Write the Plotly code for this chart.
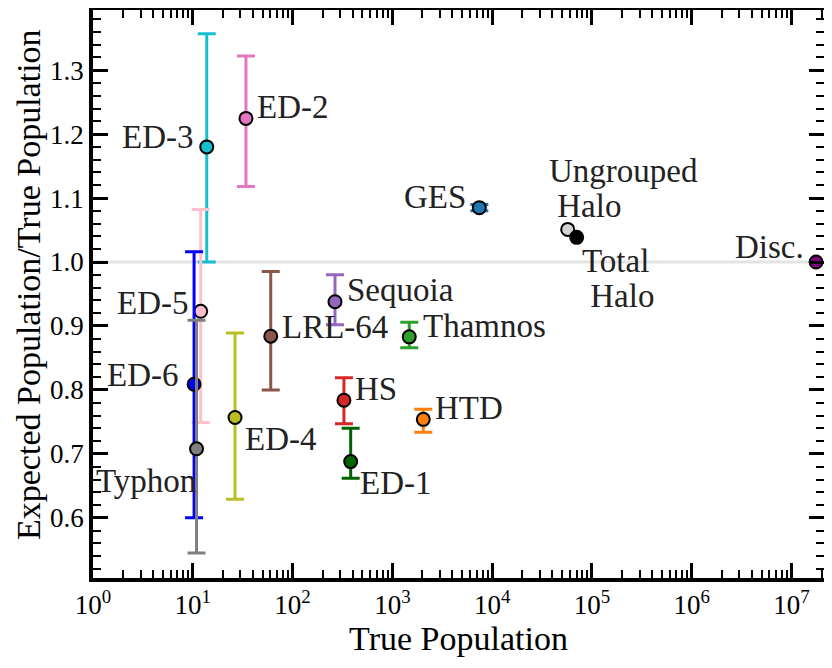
import numpy as np
import plotly.graph_objects as go

# ---------------- data ----------------
names = ["GES", "HTD", "Thamnos", "HS", "Sequoia", "LRL-64", "ED-1", "ED-2",
         "ED-3", "ED-4", "ED-5", "ED-6", "Typhon", "Ungrouped Halo", "Total Halo", "Disc"]
true_pop = [7430, 2040, 1476, 327, 266, 60.4, 382, 34.1,
            13.8, 26.5, 12.0, 10.3, 10.9, 57100, 70300, 1.76e7]
ratio = [1.085, 0.754, 0.883, 0.784, 0.938, 0.884, 0.688, 1.2245,
         1.180, 0.757, 0.923, 0.809, 0.708, 1.051, 1.0386, 1.000]
ratio_upper = [1.090, 0.770, 0.906, 0.819, 0.980, 0.985, 0.740, 1.322,
               1.357, 0.889, 1.082, 1.016, 0.909, 1.051, 1.0386, 1.000]
ratio_lower = [1.080, 0.734, 0.866, 0.747, 0.902, 0.800, 0.662, 1.118,
               1.000, 0.629, 0.749, 0.600, 0.545, 1.051, 1.0386, 1.000]
label_lines = [["GES"], ["HTD"], ["Thamnos"], ["HS"], ["Sequoia"], ["LRL-64"], ["ED-1"], ["ED-2"],
               ["ED-3"], ["ED-4"], ["ED-5"], ["ED-6"], ["Typhon"],
               ["Ungrouped", "\u00a0Halo"], ["Total", "\u00a0Halo"], ["Disc."]]
reference_ratio = 1.0
x_title = "True Population"
y_title = "Expected Population/True Population"

x_tick_exponents = [0, 1, 2, 3, 4, 5, 6, 7]
x_tick_text = ["10<sup>%d</sup>" % e for e in x_tick_exponents]
y_tick_vals = [0.6, 0.7, 0.8, 0.9, 1.0, 1.1, 1.2, 1.3]
y_tick_text = ["%.1f" % v for v in y_tick_vals]

# ---------------- style ----------------
colors = ["#1f77b4", "#ff7f0e", "#2ca02c", "#d62728", "#9467bd", "#8c564b", "#006400", "#e377c2",
          "#17becf", "#bcbd22", "#ffc0cb", "#0000ff", "#7f7f7f", "#d3d3d3", "#000000", "#800080"]
# (xanchor, xshift px, yshift px of first line's centre)
label_place = {
    "GES": ("right", -11, 11), "HTD": ("left", 10, 11), "Thamnos": ("left", 12, 11),
    "HS": ("left", 9, 11.5), "Sequoia": ("left", 10, 11.7), "LRL-64": ("left", 9, 9),
    "ED-1": ("left", 7, -21), "ED-2": ("left", 9, 11), "ED-3": ("right", -11.7, 10),
    "ED-4": ("left", 8, -22), "ED-5": ("right", -11, 8.5), "ED-6": ("right", -14, 9),
    "Typhon": ("right", 1, -32), "Ungrouped Halo": ("left", -21, 58),
    "Total Halo": ("left", 3.3, -24), "Disc": ("right", -10, 15),
}
LINE_STEP = 35
FONT = "Liberation Serif"

fig = go.Figure()
fig.add_hline(y=reference_ratio, line=dict(color="#e3e3e3", width=3), layer="below")

for i, n in enumerate(names):
    up = ratio_upper[i] - ratio[i]
    dn = ratio[i] - ratio_lower[i]
    has_err = (up > 0) or (dn > 0)
    fig.add_trace(go.Scatter(
        x=[true_pop[i]], y=[ratio[i]], mode="markers", name=n, showlegend=False,
        marker=dict(size=13, color=colors[i], line=dict(color="black", width=2)),
        error_y=dict(type="data", symmetric=False, array=[up], arrayminus=[dn],
                     color=colors[i], thickness=3, width=9, visible=has_err),
    ))

for i, n in enumerate(names):
    anchor, xs, ys = label_place[n]
    for k, line in enumerate(label_lines[i]):
        fig.add_annotation(
            x=np.log10(true_pop[i]), y=ratio[i], xref="x", yref="y",
            text=line, showarrow=False, xanchor=anchor, yanchor="middle",
            xshift=xs, yshift=ys - k * LINE_STEP,
            font=dict(family=FONT, size=33, color="#222222"),
        )

# y-axis title placed as a rotated annotation for exact positioning
fig.add_annotation(
    x=0, y=0.5, xref="paper", yref="paper", text=y_title, textangle=-90,
    showarrow=False, xanchor="center", yanchor="middle", xshift=-65, yshift=9,
    font=dict(family=FONT, size=34, color="black"),
)

minor_x = [m * 10 ** e for e in range(0, 8) for m in range(2, 10)]

axis_common = dict(
    showline=True, linecolor="black", linewidth=3.5, mirror="allticks",
    ticks="inside", ticklen=15, tickwidth=2.5, tickcolor="black",
    showgrid=False, zeroline=False,
    tickfont=dict(family=FONT, size=27, color="black"),
)

fig.update_xaxes(
    type="log", range=[0, 7.325],
    tickmode="array", tickvals=[10 ** e for e in x_tick_exponents], ticktext=x_tick_text,
    minor=dict(tickvals=minor_x, ticks="inside", ticklen=8, tickwidth=2, tickcolor="black", showgrid=False),
    title=dict(text=x_title, font=dict(family=FONT, size=34, color="black"), standoff=6),
    **axis_common,
)
fig.update_yaxes(
    range=[0.506, 1.394],
    tickmode="array", tickvals=y_tick_vals, ticktext=y_tick_text,
    minor=dict(dtick=0.02, tick0=0, ticks="inside", ticklen=8, tickwidth=2, tickcolor="black", showgrid=False),
    **axis_common,
)

fig.update_layout(
    width=824, height=660,
    margin=dict(l=85, r=8, t=2, b=90, autoexpand=False),
    plot_bgcolor="white", paper_bgcolor="white",
    font=dict(family=FONT),
)

fig.write_html("out.html")
